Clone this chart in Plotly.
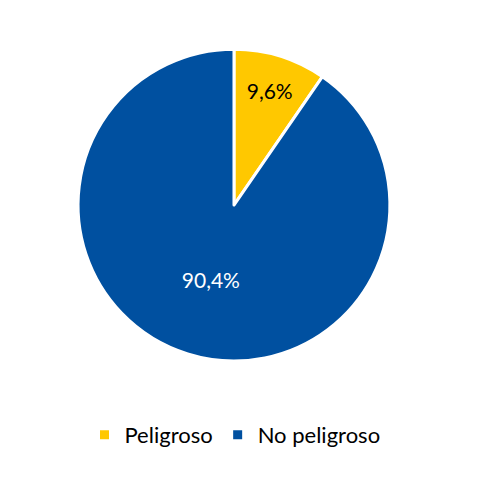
import plotly.graph_objects as go

labels = ["Peligroso", "No peligroso"]
values = [9.6, 90.4]
colors = ["#FFC800", "#0050A0"]

FONT = "Lato"

fig = go.Figure(go.Pie(
    labels=labels,
    values=values,
    sort=False,
    direction="clockwise",
    rotation=0,
    marker=dict(colors=colors, line=dict(color="white", width=3)),
    texttemplate="%{value:.1f}%",
    textposition="inside",
    insidetextorientation="horizontal",
    textfont=dict(size=21, color=["#000000", "#ffffff"], family=FONT),
    hoverinfo="skip",
    domain=dict(x=[0.1443, 0.7876], y=[0.263, 0.914]),
))

fig.update_layout(
    width=485, height=479,
    margin=dict(l=0, r=0, t=0, b=0),
    paper_bgcolor="white",
    separators=",.",
    font=dict(family=FONT, size=21, color="#000000"),
    showlegend=True,
    legend=dict(orientation="h", x=0.468, xanchor="center", y=0.1086, yanchor="middle",
                font=dict(size=22), itemwidth=30),
)

fig.write_html("out.html")
